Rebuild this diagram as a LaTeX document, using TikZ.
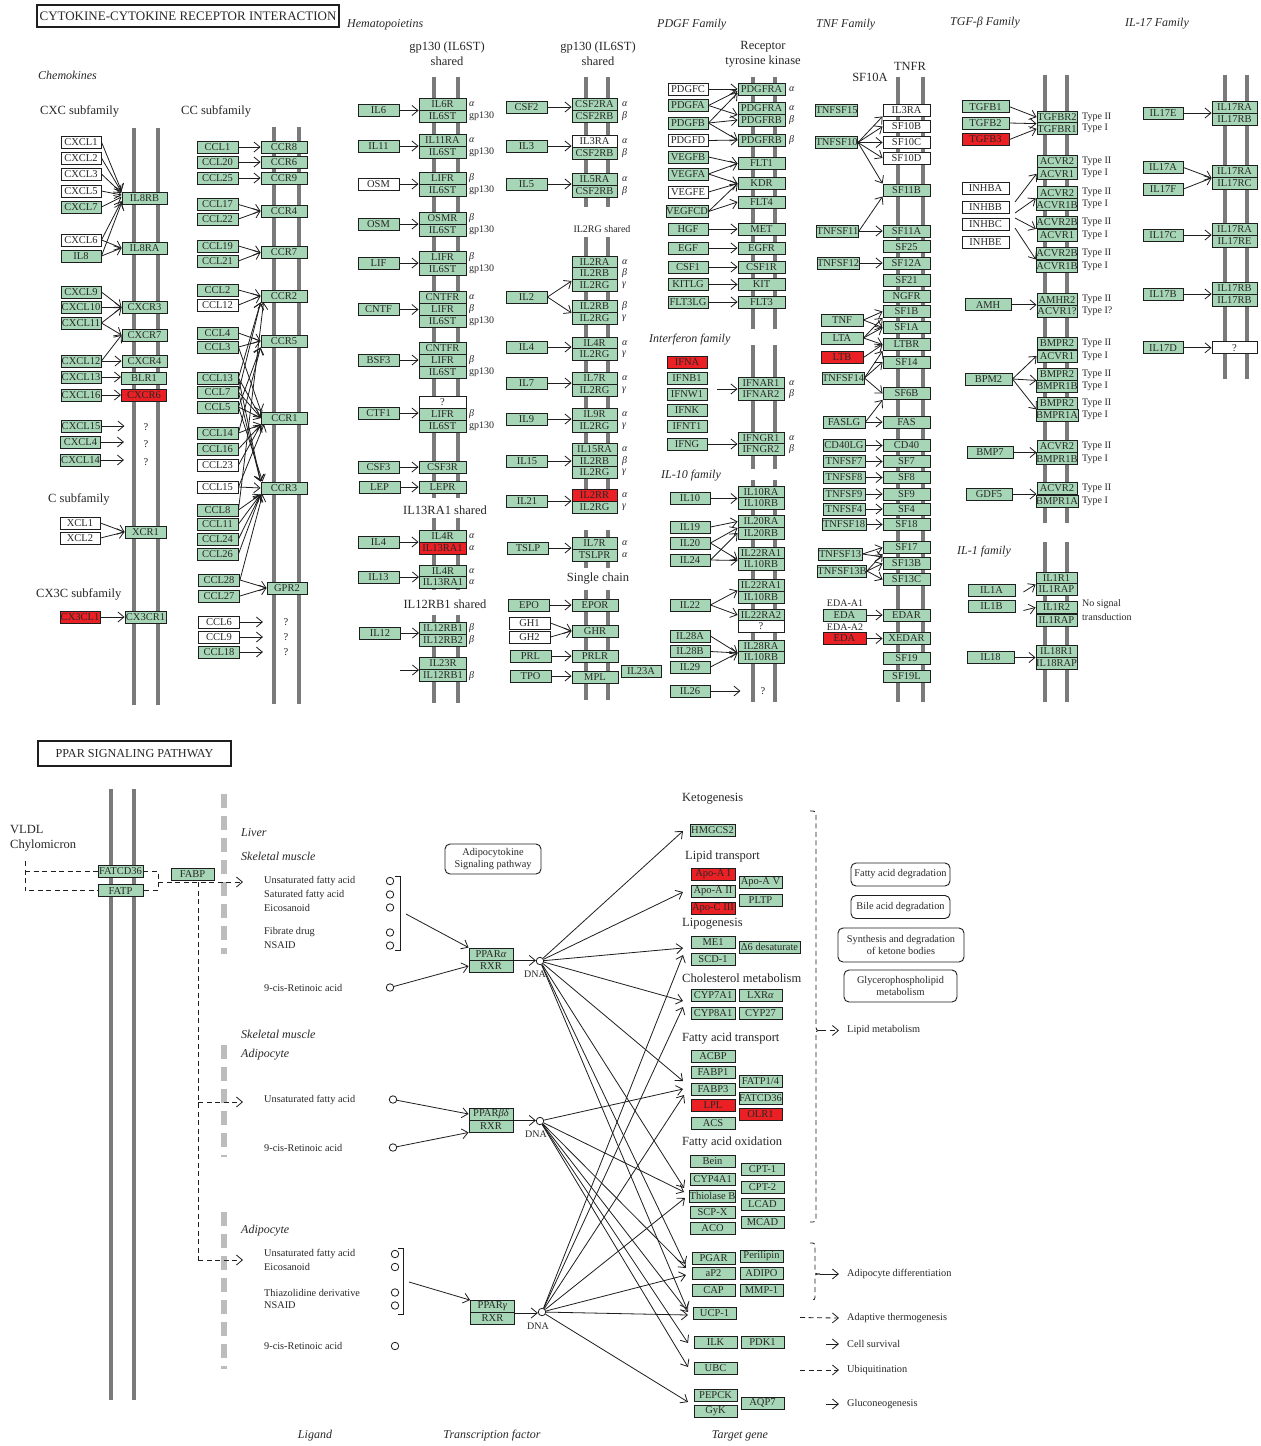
\documentclass[tikz,border=0pt]{standalone}
\usepackage{fontspec}
\setmainfont{Liberation Serif}
\usetikzlibrary{arrows.meta}
\definecolor{gf}{RGB}{166,214,182}
\definecolor{rf}{RGB}{235,32,36}
\definecolor{bd}{RGB}{30,30,30}
\definecolor{tx}{RGB}{40,40,40}
\definecolor{mg}{RGB}{122,122,122}
\definecolor{tg}{RGB}{188,188,188}
\newcommand\fBox{\fontsize{10.5}{10.5}\selectfont}
\newcommand\fLab{\fontsize{12.5}{15}\selectfont}
\newcommand\fIt{\fontsize{12}{13}\selectfont\itshape}
\newcommand\fSm{\fontsize{10.3}{11.5}\selectfont}
\newcommand\fTy{\fontsize{10}{10}\selectfont}
\newcommand\fTa{\fontsize{13}{13}\selectfont}
\newcommand\fTb{\fontsize{12.2}{13}\selectfont}
\newcommand\gA{\textit{α}}
\newcommand\gB{\textit{β}}
\newcommand\gG{\textit{γ}}
\newcounter{lc}
\newcommand\bx[6]{\node[#1,minimum width=#5pt] (#2) at (#3,#4) {#6};}
\newcommand\tl[4]{\stepcounter{lc}\node[#1] (t\arabic{lc}) at (#2,#3) {#4};}
\newcommand\ha[2]{\draw[ar] (#1.east) -- (#1.east -| #2.west);}
\newcommand\aw[2]{\draw[ar] (#1.east) -- (#2);}
\begin{document}
\begin{tikzpicture}[x=1pt,y=-1pt,
 every node/.style={text=tx},
 g/.style={draw=bd,fill=gf,line width=0.9pt,inner sep=0pt,minimum height=12pt,font=\fBox},
 w/.style={g,fill=white},
 r/.style={g,fill=rf},
 mem/.style={line width=4pt,draw=mg},
 ar/.style={draw=bd,line width=0.8pt,-{Straight Barb[length=6pt,width=10pt]}},
 dar/.style={ar,dash pattern=on 5pt off 3.5pt},
 dsh/.style={draw=bd,line width=0.8pt,dash pattern=on 5pt off 3.5pt},
 lab/.style={font=\fLab,inner sep=0pt},
 labw/.style={lab,anchor=west},
 itw/.style={font=\fIt,inner sep=0pt,anchor=west},
 ty/.style={font=\fTy,anchor=west,inner sep=0pt},
 q/.style={font=\fBox,inner sep=0pt},
 sm/.style={font=\fSm,anchor=west,inner sep=0pt},
 circ/.style={circle,draw=bd,line width=0.8pt,minimum size=7.5pt,inner sep=0pt,fill=white},
 rb/.style={draw=bd,line width=0.9pt,rounded corners=5pt,align=center,font=\fSm,inner sep=0pt},
 tgd/.style={line width=6pt,draw=tg,dash pattern=on 14pt off 8pt}]
\fill[white] (0,0) rectangle (1261,1446);
\useasboundingbox (0,0) rectangle (1261,1446);
% ---------- membranes ----------
\foreach \x in {134,158} \draw[mem] (\x,128) -- (\x,705);
\foreach \x in {274,299} \draw[mem] (\x,127) -- (\x,704);
\foreach \x in {434,458} {\draw[mem] (\x,77) -- (\x,498); \draw[mem] (\x,518) -- (\x,590); \draw[mem] (\x,615) -- (\x,703);}
\foreach \x in {586,608} {\draw[mem] (\x,77) -- (\x,207); \draw[mem] (\x,237) -- (\x,512); \draw[mem] (\x,530) -- (\x,568); \draw[mem] (\x,590) -- (\x,700);}
\foreach \x in {753,775} {\draw[mem] (\x,77) -- (\x,329); \draw[mem] (\x,345) -- (\x,469); \draw[mem] (\x,480) -- (\x,702);}
\foreach \x in {898,923} \draw[mem] (\x,77) -- (\x,702);
\foreach \x in {1045,1067} {\draw[mem] (\x,75) -- (\x,523); \draw[mem] (\x,542) -- (\x,702);}
\foreach \x in {1225,1247} \draw[mem] (\x,75) -- (\x,379);
\foreach \x in {111,134} \draw[mem] (\x,789) -- (\x,1400);
% ---------- headings ----------
\node[draw=bd,line width=1.3pt,fill=white,minimum width=302pt,minimum height=22pt,inner sep=0pt,font=\fTa] (title1) at (188,16) {CYTOKINE-CYTOKINE RECEPTOR INTERACTION};
\node[itw] (hChem) at (38,75) {Chemokines};
\node[labw] (hCXC) at (40,111) {CXC subfamily};
\node[labw] (hCC) at (181,111) {CC subfamily};
\node[labw] (hC) at (48,499) {C subfamily};
\node[labw] (hCX3C) at (36,594) {CX3C subfamily};
\node[itw] (hHem) at (347,25) {Hematopoietins};
\node[lab,align=center] (hgp1) at (447,54) {gp130 (IL6ST)\\shared};
\node[lab,align=center] (hgp2) at (598,54) {gp130 (IL6ST)\\shared};
\node[lab,font=\fTy] (hil2rg) at (602,229) {IL2RG shared};
\node[lab] (hil13) at (445,510) {IL13RA1 shared};
\node[lab] (hil12) at (445,604) {IL12RB1 shared};
\node[lab] (hsc) at (598,579) {Single chain};
\node[itw] (hPDGF) at (657,25) {PDGF Family};
\node[lab,align=center] (hrtk) at (763,54) {Receptor\\tyrosine kinase};
\node[itw] (hIFN) at (649,340) {Interferon family};
\node[itw] (hIL10) at (661,476) {IL-10 family};
\node[itw] (hTNF) at (816,25) {TNF Family};
\node[lab] (hTNFR) at (910,66) {TNFR};
\node[lab] (hSF10A) at (870,77) {SF10A};
\node[lab,font=\fTy] (hEDA1) at (845,603) {EDA-A1};
\node[lab,font=\fTy] (hEDA2) at (845,627) {EDA-A2};
\node[itw] (hTGF) at (950,23) {TGF-\textit{β} Family};
\node[itw] (hIL17) at (1125,24) {IL-17 Family};
\node[itw] (hIL1) at (957,552) {IL-1 family};
\node[ty] (hns) at (1082,604) {No signal};
\node[ty] (hns2) at (1082,617) {transduction};
% ---------- CXC ----------
\bx{w}{cxcl1}{81}{142}{40}{CXCL1}
\bx{w}{cxcl2}{81}{158}{40}{CXCL2}
\bx{w}{cxcl3}{81}{174}{40}{CXCL3}
\bx{w}{cxcl5}{81}{191}{40}{CXCL5}
\bx{g}{cxcl7}{81}{207}{40}{CXCL7}
\bx{w}{cxcl6}{81}{240}{40}{CXCL6}
\bx{g}{il8}{81}{256}{40}{IL8}
\bx{g}{cxcl9}{81}{292}{40}{CXCL9}
\bx{g}{cxcl10}{81}{307.5}{40}{CXCL10}
\bx{g}{cxcl11}{81}{323}{40}{CXCL11}
\bx{g}{cxcl12}{81}{361}{40}{CXCL12}
\bx{g}{cxcl13}{81}{377}{40}{CXCL13}
\bx{g}{cxcl16}{81}{395}{40}{CXCL16}
\bx{g}{cxcl15}{81}{426}{40}{CXCL15}
\bx{g}{cxcl4}{80.5}{442}{40}{CXCL4}
\bx{g}{cxcl14}{80.5}{460}{40}{CXCL14}
\bx{w}{xcl1}{80}{523}{40}{XCL1}
\bx{w}{xcl2}{80}{538}{40}{XCL2}
\bx{r}{cx3cl1}{80}{617}{40}{CX3CL1}
\bx{g}{il8rb}{144.5}{198}{45}{IL8RB}
\bx{g}{il8ra}{144.5}{248}{45}{IL8RA}
\bx{g}{cxcr3}{144.5}{307.5}{45}{CXCR3}
\bx{g}{cxcr7}{144.5}{335}{45}{CXCR7}
\bx{g}{cxcr4}{144.5}{361}{45}{CXCR4}
\bx{g}{blr1}{144}{378}{45}{BLR1}
\bx{r}{cxcr6}{144}{395}{45}{CXCR6}
\bx{g}{xcr1}{145.5}{532}{41}{XCR1}
\bx{g}{cx3cr1}{145.5}{617}{41}{CX3CR1}
\node[q] (qa1) at (146,427) {?};
\node[q] (qa2) at (146,444) {?};
\node[q] (qa3) at (146,462) {?};
\aw{cxcl1}{[yshift=7pt]il8rb.west}
\aw{cxcl2}{[yshift=6pt]il8rb.west}
\aw{cxcl3}{[yshift=5pt]il8rb.west}
\aw{cxcl5}{[yshift=3pt]il8rb.west}
\aw{cxcl7}{[yshift=1pt]il8rb.west}
\aw{cxcl6}{[yshift=-3pt]il8rb.west}
\aw{il8}{[yshift=-5pt]il8rb.west}
\aw{cxcl6}{il8ra.west}
\aw{il8}{il8ra.west}
\aw{cxcl9}{cxcr3.west}
\aw{cxcl10}{cxcr3.west}
\aw{cxcl11}{cxcr3.west}
\aw{cxcl11}{cxcr7.west}
\aw{cxcl12}{cxcr7.west}
\aw{cxcl12}{cxcr4.west}
\ha{cxcl13}{blr1}
\ha{cxcl16}{cxcr6}
\draw[ar] (cxcl15.east) -- ++(23,0);
\draw[ar] (cxcl4.east) -- ++(23,0);
\draw[ar] (cxcl14.east) -- ++(23,0);
\aw{xcl1}{xcr1.west}
\aw{xcl2}{xcr1.west}
\ha{cx3cl1}{cx3cr1}
% ---------- CC ----------
\bx{g}{ccl1}{217.5}{147}{41}{CCL1}
\bx{g}{ccl20}{217.5}{162}{41}{CCL20}
\bx{g}{ccl25}{217.5}{178}{41}{CCL25}
\bx{g}{ccl17}{217.5}{204.5}{41}{CCL17}
\bx{g}{ccl22}{217.5}{219}{41}{CCL22}
\bx{g}{ccl19}{217.5}{246}{41}{CCL19}
\bx{g}{ccl21}{217.5}{261}{41}{CCL21}
\bx{g}{ccl2}{217.5}{290}{41}{CCL2}
\bx{w}{ccl12}{217.5}{305}{41}{CCL12}
\bx{g}{ccl4}{217.5}{333}{41}{CCL4}
\bx{g}{ccl3}{217.5}{347}{41}{CCL3}
\bx{g}{ccl13}{217.5}{378}{41}{CCL13}
\bx{g}{ccl7}{217.5}{392}{41}{CCL7}
\bx{g}{ccl5}{217.5}{407}{41}{CCL5}
\bx{g}{ccl14}{217.5}{433}{41}{CCL14}
\bx{g}{ccl16}{217.5}{449}{41}{CCL16}
\bx{w}{ccl23}{217.5}{465}{41}{CCL23}
\bx{w}{ccl15}{217.5}{487}{41}{CCL15}
\bx{g}{ccl8}{217.5}{510}{41}{CCL8}
\bx{g}{ccl11}{217.5}{524}{41}{CCL11}
\bx{g}{ccl24}{217.5}{539}{41}{CCL24}
\bx{g}{ccl26}{217.5}{554}{41}{CCL26}
\bx{g}{ccl28}{219}{580}{41}{CCL28}
\bx{g}{ccl27}{219}{596}{41}{CCL27}
\bx{w}{ccl6}{219}{622}{41}{CCL6}
\bx{w}{ccl9}{219}{637}{41}{CCL9}
\bx{g}{ccl18}{219}{652}{41}{CCL18}
\bx{g}{ccr8}{284}{147}{46}{CCR8}
\bx{g}{ccr6}{284}{162}{46}{CCR6}
\bx{g}{ccr9}{284}{178}{46}{CCR9}
\bx{g}{ccr4}{284}{211}{46}{CCR4}
\bx{g}{ccr7}{284}{252.5}{46}{CCR7}
\bx{g}{ccr2}{284}{296}{46}{CCR2}
\bx{g}{ccr5}{284}{341}{46}{CCR5}
\bx{g}{ccr1}{284.5}{418}{46}{CCR1}
\bx{g}{ccr3}{284}{488}{46}{CCR3}
\bx{g}{gpr2}{287}{588}{40}{GPR2}
\node[q] (qc1) at (286,622) {?};
\node[q] (qc2) at (286,637) {?};
\node[q] (qc3) at (286,652) {?};
\ha{ccl1}{ccr8}
\ha{ccl20}{ccr6}
\ha{ccl25}{ccr9}
\aw{ccl17}{ccr4.west}
\aw{ccl22}{ccr4.west}
\aw{ccl19}{ccr7.west}
\aw{ccl21}{ccr7.west}
\aw{ccl2}{ccr2.west}
\aw{ccl12}{ccr2.west}
\aw{ccl13}{ccr2.south west}
\aw{ccl7}{ccr2.south west}
\aw{ccl8}{[xshift=3pt]ccr2.south west}
\aw{ccl4}{ccr5.west}
\aw{ccl3}{ccr5.west}
\aw{ccl5}{ccr5.south west}
\aw{ccl14}{ccr5.south west}
\aw{ccl3}{ccr1.north west}
\aw{ccl13}{ccr1.west}
\aw{ccl7}{ccr1.west}
\aw{ccl5}{ccr1.west}
\aw{ccl14}{ccr1.south west}
\aw{ccl16}{ccr1.south west}
\aw{ccl23}{ccr1.south west}
\aw{ccl15}{[xshift=3pt]ccr1.south west}
\aw{ccl13}{ccr3.north west}
\aw{ccl7}{ccr3.north west}
\aw{ccl5}{[xshift=2pt]ccr3.north west}
\aw{ccl15}{ccr3.west}
\aw{ccl8}{ccr3.south west}
\aw{ccl11}{ccr3.south west}
\aw{ccl24}{ccr3.south west}
\aw{ccl26}{ccr3.south west}
\aw{ccl28}{[xshift=2pt]ccr3.south west}
\aw{ccl28}{gpr2.west}
\aw{ccl27}{gpr2.west}
\draw[ar] (ccl6.east) -- ++(23,0);
\draw[ar] (ccl9.east) -- ++(23,0);
\draw[ar] (ccl18.east) -- ++(23,0);
% ---------- gp130 column 1 ----------
\bx{g}{il6}{378.5}{110.5}{41}{IL6}
\bx{g}{il11}{378.5}{146}{41}{IL11}
\bx{w}{osma}{378.5}{184}{41}{OSM}
\bx{g}{osmb}{378.5}{224}{41}{OSM}
\bx{g}{lif}{378.5}{263}{41}{LIF}
\bx{g}{cntf}{378.5}{309.5}{41}{CNTF}
\bx{g}{bsf3}{378.5}{360}{41}{BSF3}
\bx{g}{ctf1}{378.5}{413}{41}{CTF1}
\bx{g}{csf3}{378.5}{467}{41}{CSF3}
\bx{g}{lep}{379.5}{487}{41}{LEP}
\bx{g}{il4a}{378.5}{542}{41}{IL4}
\bx{g}{il13}{378.5}{577}{41}{IL13}
\bx{g}{il12}{380}{633}{41}{IL12}
\bx{g}{il6r}{442.5}{104}{47}{IL6R}
\bx{g}{il6sta}{442.5}{116}{47}{IL6ST}
\bx{g}{il11ra}{442.5}{140}{47}{IL11RA}
\bx{g}{il6stb}{442.5}{152}{47}{IL6ST}
\bx{g}{lifra}{442.5}{178}{47}{LIFR}
\bx{g}{il6stc}{442.5}{190}{47}{IL6ST}
\bx{g}{osmr}{442.5}{218}{47}{OSMR}
\bx{g}{il6std}{442.5}{230}{47}{IL6ST}
\bx{g}{lifrb}{442.5}{257}{47}{LIFR}
\bx{g}{il6ste}{442.5}{269}{47}{IL6ST}
\bx{g}{cntfra}{442.5}{297}{47}{CNTFR}
\bx{g}{lifrc}{442.5}{309}{47}{LIFR}
\bx{g}{il6stf}{442.5}{321}{47}{IL6ST}
\bx{g}{cntfrb}{442.5}{348}{47}{CNTFR}
\bx{g}{lifrd}{442.5}{360}{47}{LIFR}
\bx{g}{il6stg}{442.5}{372}{47}{IL6ST}
\bx{w}{qgp}{442.5}{402}{47}{?}
\bx{g}{lifre}{442.5}{414}{47}{LIFR}
\bx{g}{il6sth}{442.5}{426}{47}{IL6ST}
\bx{g}{csf3r}{442.5}{467}{47}{CSF3R}
\bx{g}{lepr}{442.5}{487}{47}{LEPR}
\bx{g}{il4ra}{442.5}{536}{47}{IL4R}
\bx{r}{il13raa}{442.5}{548}{47}{IL13RA1}
\bx{g}{il4rb}{443}{571}{47}{IL4R}
\bx{g}{il13rab}{443}{582}{47}{IL13RA1}
\bx{g}{il12rb1a}{443}{628}{47}{IL12RB1}
\bx{g}{il12rb2}{443}{640}{47}{IL12RB2}
\bx{g}{il23r}{443}{663.5}{47}{IL23R}
\bx{g}{il12rb1b}{443}{675.5}{47}{IL12RB1}
\foreach \y/\myT in {104/\gA,116/gp130,140/\gA,152/gp130,178/\gB,190/gp130,218/\gB,230/gp130,257/\gB,269/gp130,297/\gA,309/\gB,321/gp130,360/\gB,372/gp130,414/\gB,426/gp130,536/\gA,548/\gA,571/\gA,582/\gA,628/\gB,640/\gB,676/\gB}{\tl{ty}{469}{\y}{\myT}}
\ha{il6}{il6r}
\ha{il11}{il11ra}
\ha{osma}{lifra}
\ha{osmb}{osmr}
\ha{lif}{lifrb}
\ha{cntf}{lifrc}
\ha{bsf3}{lifrd}
\ha{ctf1}{lifre}
\ha{csf3}{csf3r}
\ha{lep}{lepr}
\ha{il4a}{il4ra}
\ha{il13}{il4rb}
\ha{il12}{il12rb1a}
\coordinate (f23) at (400,670);
\draw[ar] (f23) -- (f23 -| il23r.west);
% ---------- gp130 column 2 ----------
\bx{g}{csf2}{526.5}{107}{41}{CSF2}
\bx{g}{il3}{526.5}{146}{41}{IL3}
\bx{g}{il5}{526.5}{184}{41}{IL5}
\bx{g}{il2}{526.5}{297}{41}{IL2}
\bx{g}{il4b}{526.5}{347}{41}{IL4}
\bx{g}{il7}{526.5}{383}{41}{IL7}
\bx{g}{il9}{526.5}{419}{41}{IL9}
\bx{g}{il15}{527}{461}{41}{IL15}
\bx{g}{il21}{527}{501}{41}{IL21}
\bx{g}{tslp}{528}{548}{41}{TSLP}
\bx{g}{epo}{529}{605}{41}{EPO}
\bx{w}{gh1}{529.5}{623}{41}{GH1}
\bx{w}{gh2}{529.5}{637}{41}{GH2}
\bx{g}{prl}{530.5}{656}{41}{PRL}
\bx{g}{tpo}{530.5}{676}{41}{TPO}
\bx{g}{csf2ra}{594.5}{104}{45}{CSF2RA}
\bx{g}{csf2rba}{594.5}{116}{45}{CSF2RB}
\bx{w}{il3ra}{594.5}{141}{45}{IL3RA}
\bx{g}{csf2rbb}{594.5}{153}{45}{CSF2RB}
\bx{g}{il5ra}{594.5}{179}{45}{IL5RA}
\bx{g}{csf2rbc}{594.5}{191}{45}{CSF2RB}
\bx{g}{il2ra}{594.5}{262}{45}{IL2RA}
\bx{g}{il2rba}{594.5}{273.5}{45}{IL2RB}
\bx{g}{il2rga}{594.5}{285}{45}{IL2RG}
\bx{g}{il2rbb}{594.5}{306.5}{45}{IL2RB}
\bx{g}{il2rgb}{594.5}{318}{45}{IL2RG}
\bx{g}{il4rc}{594.5}{343}{45}{IL4R}
\bx{g}{il2rgc}{594.5}{354.5}{45}{IL2RG}
\bx{g}{il7ra}{594.5}{378.5}{45}{IL7R}
\bx{g}{il2rgd}{594.5}{390}{45}{IL2RG}
\bx{g}{il9r}{594.5}{414.5}{45}{IL9R}
\bx{g}{il2rge}{594.5}{426.5}{45}{IL2RG}
\bx{g}{il15ra}{594.5}{449.5}{45}{IL15RA}
\bx{g}{il2rbc}{594.5}{461}{45}{IL2RB}
\bx{g}{il2rgf}{594.5}{472.5}{45}{IL2RG}
\bx{r}{il2rr}{594.5}{495}{45}{IL2RR}
\bx{g}{il2rgg}{594.5}{507}{45}{IL2RG}
\bx{g}{il7rb}{594.5}{543}{45}{IL7R}
\bx{g}{tslpr}{594.5}{555}{45}{TSLPR}
\bx{g}{epor}{595}{605}{46}{EPOR}
\bx{g}{ghr}{595}{631}{46}{GHR}
\bx{g}{prlr}{595}{656}{46}{PRLR}
\bx{g}{mpl}{595}{677}{46}{MPL}
\bx{g}{il23a}{641}{671}{40}{IL23A}
\foreach \y/\myT in {104/\gA,116/\gB,141/\gA,153/\gB,179/\gA,191/\gB,262/\gA,273.5/\gB,285/\gG,306.5/\gB,318/\gG,343/\gA,354.5/\gG,378.5/\gA,390/\gG,414.5/\gA,426.5/\gG,449.5/\gA,461/\gB,472.5/\gG,495/\gA,507/\gG,543/\gA,555/\gA}{\tl{ty}{622}{\y}{\myT}}
\ha{csf2}{csf2ra}
\ha{il3}{il3ra}
\ha{il5}{il5ra}
\aw{il2}{[yshift=4pt]il2rga.west}
\aw{il2}{il2rbb.south west}
\ha{il4b}{il4rc}
\ha{il7}{il7ra}
\ha{il9}{il9r}
\ha{il15}{il2rbc}
\ha{il21}{il2rr}
\ha{tslp}{il7rb}
\ha{epo}{epor}
\aw{gh1}{ghr.west}
\aw{gh2}{ghr.west}
\ha{prl}{prlr}
\ha{tpo}{mpl}
% ---------- PDGF ----------
\bx{w}{pdgfc}{688}{89}{40}{PDGFC}
\bx{g}{pdgfa}{688}{105.5}{40}{PDGFA}
\bx{g}{pdgfb}{688}{123}{40}{PDGFB}
\bx{w}{pdgfd}{688}{140.5}{40}{PDGFD}
\bx{g}{vegfb}{688}{157}{40}{VEGFB}
\bx{g}{vegfa}{688}{174}{40}{VEGFA}
\bx{w}{vegfe}{688}{192}{40}{VEGFE}
\bx{g}{vegfcd}{687}{211.5}{42}{VEGFCD}
\bx{g}{hgf}{688}{229}{40}{HGF}
\bx{g}{egf}{688}{248}{40}{EGF}
\bx{g}{csf1}{688}{267}{40}{CSF1}
\bx{g}{kitlg}{688}{284.5}{40}{KITLG}
\bx{g}{flt3lg}{688}{302}{40}{FLT3LG}
\bx{g}{pdgfraa}{761.5}{89}{47}{PDGFRA}
\bx{g}{pdgfrab}{761.5}{108.5}{47}{PDGFRA}
\bx{g}{pdgfrba}{761.5}{120}{47}{PDGFRB}
\bx{g}{pdgfrbb}{761.5}{140}{47}{PDGFRB}
\bx{g}{flt1}{761.5}{163.5}{47}{FLT1}
\bx{g}{kdr}{761.5}{183.5}{47}{KDR}
\bx{g}{flt4}{761.5}{202}{47}{FLT4}
\bx{g}{met}{761.5}{229}{47}{MET}
\bx{g}{egfr}{761.5}{248}{47}{EGFR}
\bx{g}{csf1r}{761.5}{267}{47}{CSF1R}
\bx{g}{kit}{761.5}{284.5}{47}{KIT}
\bx{g}{flt3}{761.5}{302}{47}{FLT3}
\foreach \y/\myT in {89/\gA,108.5/\gA,120/\gB,140/\gB,383/\gA,394.5/\gB,438/\gA,449.5/\gB}{\tl{ty}{789}{\y}{\myT}}
\aw{pdgfc}{pdgfraa.west}
\aw{pdgfa}{[yshift=-2pt]pdgfraa.west}
\aw{pdgfa}{pdgfrab.south west}
\aw{pdgfb}{[yshift=-4pt]pdgfraa.west}
\aw{pdgfb}{pdgfrba.west}
\aw{pdgfb}{pdgfrbb.west}
\aw{pdgfd}{pdgfrbb.west}
\aw{vegfb}{flt1.west}
\aw{vegfa}{flt1.west}
\aw{vegfa}{kdr.west}
\aw{vegfe}{kdr.west}
\aw{vegfcd}{kdr.west}
\aw{vegfcd}{flt4.west}
\ha{hgf}{met}
\ha{egf}{egfr}
\ha{csf1}{csf1r}
\ha{kitlg}{kit}
\ha{flt3lg}{flt3}
% ---------- Interferon ----------
\bx{r}{ifna}{687}{362}{40}{IFNA}
\bx{g}{ifnb1}{687}{378}{40}{IFNB1}
\bx{g}{ifnw1}{687}{394}{40}{IFNW1}
\bx{g}{ifnk}{687}{410}{40}{IFNK}
\bx{g}{ifnt1}{687}{426}{40}{IFNT1}
\bx{g}{ifng}{687}{444}{40}{IFNG}
\bx{g}{ifnar1}{761}{383}{46}{IFNAR1}
\bx{g}{ifnar2}{761}{394.5}{46}{IFNAR2}
\bx{g}{ifngr1}{761}{438}{46}{IFNGR1}
\bx{g}{ifngr2}{761}{449.5}{46}{IFNGR2}
\coordinate (fifn) at (717,389);
\draw[ar] (fifn) -- (fifn -| ifnar1.west);
\ha{ifng}{ifngr1}
% ---------- IL-10 ----------
\bx{g}{il10}{690}{498.5}{40}{IL10}
\bx{g}{il19}{690}{527}{40}{IL19}
\bx{g}{il20}{690}{543}{40}{IL20}
\bx{g}{il24}{690}{560}{40}{IL24}
\bx{g}{il22}{690}{605}{40}{IL22}
\bx{g}{il28a}{690}{636}{40}{IL28A}
\bx{g}{il28b}{690}{651.5}{40}{IL28B}
\bx{g}{il29}{690}{667}{40}{IL29}
\bx{g}{il26}{690}{691}{40}{IL26}
\bx{g}{il10ra}{761}{492.5}{46}{IL10RA}
\bx{g}{il10rba}{761}{503.5}{46}{IL10RB}
\bx{g}{il20ra}{761}{521.5}{46}{IL20RA}
\bx{g}{il20rb}{761}{533}{46}{IL20RB}
\bx{g}{il22raa}{761}{553}{46}{IL22RA1}
\bx{g}{il10rbb}{761}{564.5}{46}{IL10RB}
\bx{g}{il22rab}{761}{585}{46}{IL22RA1}
\bx{g}{il10rbc}{761}{597}{46}{IL10RB}
\bx{g}{il22ra2}{761}{615}{46}{IL22RA2}
\bx{w}{qil}{761}{626.5}{46}{?}
\bx{g}{il28ra}{761}{646.5}{46}{IL28RA}
\bx{g}{il10rbd}{761}{657.5}{46}{IL10RB}
\node[q] (qil26) at (763,691) {?};
\ha{il10}{il10ra}
\aw{il19}{il20ra.west}
\aw{il20}{il20ra.south west}
\aw{il20}{il22raa.south west}
\aw{il24}{il20rb.west}
\aw{il24}{[yshift=-1pt]il22raa.south west}
\aw{il22}{il10rbc.north west}
\aw{il22}{il22ra2.west}
\aw{il28a}{il28ra.south west}
\aw{il28b}{il28ra.south west}
\aw{il29}{il28ra.south west}
\draw[ar] (il26.east) -- ++(30,0);
% ---------- TNF ----------
\bx{g}{tnfsf15}{836.5}{110}{42}{TNFSF15}
\bx{g}{tnfsf10}{836.5}{142.5}{42}{TNFSF10}
\bx{g}{tnfsf11}{837.5}{231}{42}{TNFSF11}
\bx{g}{tnfsf12}{838}{263}{42}{TNFSF12}
\bx{g}{tnf}{842}{320}{42}{TNF}
\bx{g}{lta}{842}{338}{42}{LTA}
\bx{r}{ltb}{842}{357.5}{42}{LTB}
\bx{g}{tnfsf14}{843}{378}{42}{TNFSF14}
\bx{g}{faslg}{844}{422}{42}{FASLG}
\bx{g}{cd40lg}{844}{445.5}{42}{CD40LG}
\bx{g}{tnfsf7}{844}{461.5}{42}{TNFSF7}
\bx{g}{tnfsf8}{844}{477.5}{42}{TNFSF8}
\bx{g}{tnfsf9}{844}{494}{42}{TNFSF9}
\bx{g}{tnfsf4}{844}{509}{42}{TNFSF4}
\bx{g}{tnfsf18}{844}{524.5}{44}{TNFSF18}
\bx{g}{tnfsf13}{840}{554}{44}{TNFSF13}
\bx{g}{tnfsf13b}{842}{571}{48}{TNFSF13B}
\bx{g}{edaa}{844.5}{615}{43}{EDA}
\bx{r}{edab}{844.5}{638.5}{43}{EDA}
\bx{w}{il3rb}{906.5}{110}{47}{IL3RA}
\bx{w}{sf10b}{906.5}{126.5}{47}{SF10B}
\bx{w}{sf10c}{906.5}{142.5}{47}{SF10C}
\bx{w}{sf10d}{906.5}{158}{47}{SF10D}
\bx{g}{sf11b}{906.5}{190}{47}{SF11B}
\bx{g}{sf11a}{906.5}{231}{47}{SF11A}
\bx{g}{sf25}{906.5}{246.7}{47}{SF25}
\bx{g}{sf12a}{906.5}{263}{47}{SF12A}
\bx{g}{sf21}{906.5}{280}{47}{SF21}
\bx{g}{ngfr}{906.5}{296}{47}{NGFR}
\bx{g}{sf1b}{906.5}{311.5}{47}{SF1B}
\bx{g}{sf1a}{906.5}{327.5}{47}{SF1A}
\bx{g}{ltbr}{906.5}{344.5}{47}{LTBR}
\bx{g}{sf14}{906.5}{362}{47}{SF14}
\bx{g}{sf6b}{906.5}{393.5}{47}{SF6B}
\bx{g}{fas}{906.5}{422}{47}{FAS}
\bx{g}{cd40}{906.5}{445.5}{47}{CD40}
\bx{g}{sf7}{906.5}{461.5}{47}{SF7}
\bx{g}{sf8}{906.5}{477.5}{47}{SF8}
\bx{g}{sf9}{906.5}{494}{47}{SF9}
\bx{g}{sf4}{906.5}{509}{47}{SF4}
\bx{g}{sf18}{906.5}{524.5}{47}{SF18}
\bx{g}{sf17}{906.5}{547.5}{47}{SF17}
\bx{g}{sf13b}{906.5}{563.5}{47}{SF13B}
\bx{g}{sf13c}{906.5}{579.5}{47}{SF13C}
\bx{g}{edar}{906.5}{615}{47}{EDAR}
\bx{g}{xedar}{906.5}{638.5}{47}{XEDAR}
\bx{g}{sf19}{906.5}{658.3}{47}{SF19}
\bx{g}{sf19l}{906.5}{676}{47}{SF19L}
\aw{tnfsf10}{il3rb.south west}
\aw{tnfsf10}{sf10b.west}
\aw{tnfsf10}{sf10c.west}
\aw{tnfsf10}{sf10d.west}
\aw{tnfsf10}{sf11b.north west}
\aw{tnfsf11}{sf11a.west}
\aw{tnfsf11}{sf11b.south west}
\ha{tnfsf12}{sf12a}
\aw{tnf}{sf1b.west}
\aw{tnf}{sf1a.west}
\aw{lta}{sf1b.south west}
\aw{lta}{sf1a.west}
\aw{lta}{ltbr.west}
\aw{ltb}{ltbr.west}
\aw{tnfsf14}{ltbr.south west}
\aw{tnfsf14}{sf14.west}
\aw{tnfsf14}{sf6b.west}
\aw{faslg}{sf6b.south west}
\ha{faslg}{fas}
\ha{cd40lg}{cd40}
\ha{tnfsf7}{sf7}
\ha{tnfsf8}{sf8}
\ha{tnfsf9}{sf9}
\ha{tnfsf4}{sf4}
\ha{tnfsf18}{sf18}
\aw{tnfsf13}{sf17.west}
\aw{tnfsf13}{sf13b.north west}
\aw{tnfsf13b}{sf17.south west}
\aw{tnfsf13b}{sf13b.west}
\aw{tnfsf13b}{sf13c.west}
\ha{edaa}{edar}
\ha{edab}{xedar}
% ---------- TGF-beta ----------
\bx{g}{tgfb1}{985.5}{106.7}{47}{TGFB1}
\bx{g}{tgfb2}{985.5}{123}{47}{TGFB2}
\bx{r}{tgfb3}{985.5}{139.5}{47}{TGFB3}
\bx{w}{inhba}{985.5}{188.5}{47}{INHBA}
\bx{w}{inhbb}{985.5}{207}{47}{INHBB}
\bx{w}{inhbc}{985.5}{224}{47}{INHBC}
\bx{w}{inhbe}{985.5}{242}{47}{INHBE}
\bx{g}{amh}{988}{304.8}{46}{AMH}
\bx{g}{bpm2}{988.5}{379}{47}{BPM2}
\bx{g}{bmp7}{990}{452.5}{46}{BMP7}
\bx{g}{gdf5}{989}{494}{46}{GDF5}
\bx{g}{tgfbr2}{1057}{117.2}{40}{TGFBR2}
\bx{g}{tgfbr1}{1057}{128.8}{40}{TGFBR1}
\bx{g}{acvraa}{1057}{161}{40}{ACVR2}
\bx{g}{acvrab}{1057}{173.8}{40}{ACVR1}
\bx{g}{acvrba}{1057}{192.8}{40}{ACVR2}
\bx{g}{acvrbb}{1057}{204.8}{40}{ACVR1B}
\bx{g}{acvrca}{1057}{222.5}{40}{ACVR2B}
\bx{g}{acvrcb}{1057}{235}{40}{ACVR1}
\bx{g}{acvrda}{1057}{253}{40}{ACVR2B}
\bx{g}{acvrdb}{1057}{266}{40}{ACVR1B}
\bx{g}{amhr2}{1057}{299.8}{40}{AMHR2}
\bx{g}{acvrq}{1057}{311.5}{40}{ACVR1?}
\bx{g}{bmpra}{1057}{343}{40}{BMPR2}
\bx{g}{acvre}{1057}{356}{40}{ACVR1}
\bx{g}{bmprb}{1057}{374}{40}{BMPR2}
\bx{g}{bmprba}{1057}{386.5}{40}{BMPR1B}
\bx{g}{bmprc}{1057}{403}{40}{BMPR2}
\bx{g}{bmpraa}{1057}{415}{40}{BMPR1A}
\bx{g}{acvrf}{1057}{446.5}{40}{ACVR2}
\bx{g}{bmprbb}{1057}{458.8}{40}{BMPR1B}
\bx{g}{acvrg}{1057}{488}{40}{ACVR2}
\bx{g}{bmprab}{1057}{501}{40}{BMPR1A}
\foreach \y/\myT in {117.2/Type II,128.8/Type I,161/Type II,173.8/Type I,192.8/Type II,204.8/Type I,222.5/Type II,235/Type I,253/Type II,266/Type I,299.8/Type II,311.5/Type I?,343/Type II,356/Type I,374/Type II,386.5/Type I,403/Type II,415/Type I,446.5/Type II,458.8/Type I,488/Type II,501/Type I}{\tl{ty}{1082}{\y}{\myT}}
\aw{tgfb1}{tgfbr2.west}
\aw{tgfb2}{tgfbr2.south west}
\aw{tgfb3}{tgfbr1.west}
\coordinate (iha) at (1015,202);
\coordinate (ihb) at (1015,213);
\coordinate (ihc) at (1015,218);
\coordinate (ihd) at (1015,228);
\draw[ar] (iha) -- (acvrab.west);
\draw[ar] (ihb) -- (acvrbb.north west);
\draw[ar] (ihc) -- (acvrca.south west);
\draw[ar] (ihd) -- (acvrda.south west);
\ha{amh}{amhr2}
\aw{bpm2}{acvre.west}
\aw{bpm2}{bmprb.south west}
\aw{bpm2}{bmprc.south west}
\ha{bmp7}{acvrf}
\ha{gdf5}{acvrg}
% ---------- IL-17 ----------
\bx{g}{il17e}{1163}{113}{40}{IL17E}
\bx{g}{il17a}{1163}{167.5}{40}{IL17A}
\bx{g}{il17f}{1163}{189}{40}{IL17F}
\bx{g}{il17c}{1163}{235}{40}{IL17C}
\bx{g}{il17b}{1163}{294}{40}{IL17B}
\bx{g}{il17d}{1163}{347.8}{40}{IL17D}
\bx{g}{il17raa}{1234.5}{107.5}{45}{IL17RA}
\bx{g}{il17rba}{1234.5}{119}{45}{IL17RB}
\bx{g}{il17rab}{1234.5}{171.5}{45}{IL17RA}
\bx{g}{il17rc}{1234.5}{183}{45}{IL17RC}
\bx{g}{il17rac}{1234.5}{229.5}{45}{IL17RA}
\bx{g}{il17re}{1234.5}{241.5}{45}{IL17RE}
\bx{g}{il17rbb}{1234.5}{288}{45}{IL17RB}
\bx{g}{il17rbc}{1234.5}{300}{45}{IL17RB}
\bx{w}{q17}{1234.5}{347.8}{45}{?}
\ha{il17e}{il17raa}
\aw{il17a}{il17rab.south west}
\aw{il17f}{il17rab.south west}
\ha{il17c}{il17rac}
\ha{il17b}{il17rbb}
\ha{il17d}{q17}
% ---------- IL-1 ----------
\bx{g}{il1a}{991.5}{590}{47}{IL1A}
\bx{g}{il1b}{991.5}{606.5}{47}{IL1B}
\bx{g}{il18}{990.5}{657.5}{47}{IL18}
\bx{g}{il1r1}{1056.5}{578}{41}{IL1R1}
\bx{g}{il1rapa}{1056.5}{589.5}{41}{IL1RAP}
\bx{g}{il1r2}{1056.5}{607.5}{41}{IL1R2}
\bx{g}{il1rapb}{1056.5}{620}{41}{IL1RAP}
\bx{g}{il18r1}{1056.5}{651.5}{41}{IL18R1}
\bx{g}{il18rap}{1056.5}{663}{41}{IL18RAP}
\draw[ar] ([xshift=8pt,yshift=-2pt]il1a.east) -- (il1r1.south west);
\draw[ar] ([xshift=8pt,yshift=-4pt]il1b.east) -- (il1r2.west);
\ha{il18}{il18r1}
% =============== PPAR ===============
\node[draw=bd,line width=1.3pt,fill=white,minimum width=193pt,minimum height=25pt,inner sep=0pt,font=\fTb] (title2) at (134.5,753.5) {PPAR SIGNALING PATHWAY};
\draw[tgd] (224,794) -- (224,954);
\draw[tgd] (224,1045) -- (224,1157);
\draw[tgd] (224,1212) -- (224,1369);
\node[labw] (vldl) at (10,829) {VLDL};
\node[labw] (chylo) at (10,846) {Chylomicron};
\bx{g}{fatcd}{120.5}{871.5}{45}{FATCD36}
\bx{g}{fatp}{120.5}{890.7}{45}{FATP}
\bx{g}{fabp}{192.5}{874}{43}{FABP}
\coordinate (vl) at (25,861);
\coordinate (jr) at (158,882);
\coordinate (jv) at (198,882);
\coordinate (ea) at (243,882);
\coordinate (eb) at (243,1102);
\coordinate (ec) at (243,1260);
\draw[dsh] (vl) -- (vl |- fatp.west) -- (fatp.west);
\draw[dsh] (vl |- fatcd.west) -- (fatcd.west);
\draw[dsh] (fatcd.east) -| (jr |- fatp.east) -- (fatp.east);
\draw[dar] (jr) -- (ea);
\draw[dsh] (jv) -- (jv |- ec);
\draw[dar] (jv |- eb) -- (eb);
\draw[dar] (jv |- ec) -- (ec);
\node[itw] (lLiv) at (241,833) {Liver};
\node[itw] (lSk1) at (241,856.5) {Skeletal muscle};
\node[itw] (lSk2) at (241,1034.6) {Skeletal muscle};
\node[itw] (lAd1) at (241,1055) {Adipocyte};
\node[itw] (lAd2) at (241,1231) {Adipocyte};
\tl{sm}{264}{881}{Unsaturated fatty acid}
\tl{sm}{264}{894.5}{Saturated fatty acid}
\tl{sm}{264}{907.5}{Eicosanoid}
\tl{sm}{264}{932.5}{Fibrate drug}
\tl{sm}{264}{945.5}{NSAID}
\tl{sm}{264}{987.5}{9-cis-Retinoic acid}
\tl{sm}{264}{1099.5}{Unsaturated fatty acid}
\tl{sm}{264}{1147.5}{9-cis-Retinoic acid}
\tl{sm}{264}{1254}{Unsaturated fatty acid}
\tl{sm}{264}{1267}{Eicosanoid}
\tl{sm}{264}{1292.5}{Thiazolidine derivative}
\tl{sm}{264}{1305.5}{NSAID}
\tl{sm}{264}{1346}{9-cis-Retinoic acid}
\node[circ] (ca) at (390,881) {};
\node[circ] (cb) at (390,894.5) {};
\node[circ] (cc) at (390,907.5) {};
\node[circ] (cd) at (390,932.5) {};
\node[circ] (ce) at (390,945.5) {};
\node[circ] (cf) at (390,987.5) {};
\node[circ] (cg) at (393,1099.5) {};
\node[circ] (ch) at (393,1147.5) {};
\node[circ] (ci) at (395,1254) {};
\node[circ] (cj) at (395,1267) {};
\node[circ] (ck) at (395,1292.5) {};
\node[circ] (cl) at (395,1305.5) {};
\node[circ] (cm) at (395,1346) {};
\draw[draw=bd,line width=0.8pt] (395,876.5) -- (400,876.5) -- (400,950) -- (395,950);
\draw[draw=bd,line width=0.8pt] (398,1248) -- (403,1248) -- (403,1314) -- (398,1314);
\node[rb,minimum width=96pt,minimum height=30pt] (adsig) at (493,859) {Adipocytokine\\Signaling pathway};
\bx{g}{ppara}{491}{954}{44}{PPAR\textit{α}}
\bx{g}{rxra}{491}{966}{44}{RXR}
\bx{g}{pparb}{491}{1114}{44}{PPAR\textit{βδ}}
\bx{g}{rxrb}{491}{1126}{44}{RXR}
\bx{g}{pparg}{492.5}{1306.5}{44}{PPAR\textit{γ}}
\bx{g}{rxrc}{492.5}{1318.5}{44}{RXR}
\coordinate (bka) at (406,914);
\coordinate (bkb) at (409,1282);
\draw[ar] (bka) -- (ppara.north west);
\draw[ar] (cf) -- (rxra.west);
\draw[ar] (cg) -- (pparb.west);
\draw[ar] (ch) -- (rxrb.south west);
\draw[ar] (bkb) -- (pparg.north west);
\node[circ] (dna1) at (540,961) {};
\node[circ] (dna2) at (540,1121) {};
\node[circ] (dna3) at (542,1312) {};
\node[font=\fTy,inner sep=0pt] (dl1) at (535,974) {DNA};
\node[font=\fTy,inner sep=0pt] (dl2) at (536,1134) {DNA};
\node[font=\fTy,inner sep=0pt] (dl3) at (538,1326) {DNA};
\draw[ar] (ppara.south east) -- (ppara.south east -| dna1.west);
\draw[ar] (pparb.south east) -- (pparb.south east -| dna2.west);
\draw[ar] (pparg.south east) -- (pparg.south east -| dna3.west);
% target genes
\node[labw] (cKet) at (682,799) {Ketogenesis};
\node[labw] (cLip) at (685,856) {Lipid transport};
\node[labw] (cLpg) at (682,924) {Lipogenesis};
\node[labw] (cCho) at (682,978) {Cholesterol metabolism};
\node[labw] (cFat) at (682,1038) {Fatty acid transport};
\node[labw] (cFao) at (682,1142) {Fatty acid oxidation};
\bx{g}{hmgcs2}{712.5}{830}{45}{HMGCS2}
\bx{r}{apoa1}{713}{874}{44}{Apo-A I}
\bx{g}{apoa2}{713}{891}{44}{Apo-A II}
\bx{r}{apoc3}{713}{908}{44}{Apo-C III}
\bx{g}{apoa5}{760.5}{882}{43}{Apo-A V}
\bx{g}{pltp}{760.5}{900}{43}{PLTP}
\bx{g}{me1}{713}{942}{44}{ME1}
\bx{g}{scd1}{713}{959}{44}{SCD-1}
\bx{g}{dsat}{769.5}{947}{61}{Δ6 desaturate}
\bx{g}{cyp7a1}{713}{995}{44}{CYP7A1}
\bx{g}{cyp8a1}{713}{1013}{44}{CYP8A1}
\bx{g}{lxra}{760.5}{995}{43}{LXR\textit{α}}
\bx{g}{cyp27}{760.5}{1013}{43}{CYP27}
\bx{g}{acbp}{713}{1056}{44}{ACBP}
\bx{g}{fabp1}{713}{1072}{44}{FABP1}
\bx{g}{fabp3}{713}{1089}{44}{FABP3}
\bx{r}{lpl}{713}{1105}{44}{LPL}
\bx{g}{acs}{713}{1123}{44}{ACS}
\bx{g}{fatp14}{760.5}{1081}{43}{FATP1/4}
\bx{g}{fatcdb}{760.5}{1098}{43}{FATCD36}
\bx{r}{olr1}{760.5}{1114}{43}{OLR1}
\bx{g}{bein}{712.5}{1161}{45}{Bein}
\bx{g}{cyp4a1}{712.5}{1179}{45}{CYP4A1}
\bx{g}{thiob}{712.5}{1196}{45}{Thiolase B}
\bx{g}{scpx}{712.5}{1212}{45}{SCP-X}
\bx{g}{aco}{712.5}{1228}{45}{ACO}
\bx{g}{cpt1}{762.5}{1169}{43}{CPT-1}
\bx{g}{cpt2}{762.5}{1187}{43}{CPT-2}
\bx{g}{lcad}{762.5}{1204}{43}{LCAD}
\bx{g}{mcad}{762.5}{1222}{43}{MCAD}
\bx{g}{pgar}{713.5}{1258}{43}{PGAR}
\bx{g}{ap2}{713.5}{1273}{43}{aP2}
\bx{g}{cap}{713.5}{1290}{43}{CAP}
\bx{g}{peril}{761.5}{1256}{43}{Perilipin}
\bx{g}{adipo}{761.5}{1273}{43}{ADIPO}
\bx{g}{mmp1}{761.5}{1290}{43}{MMP-1}
\bx{g}{ucp1}{714.5}{1313}{43}{UCP-1}
\bx{g}{ilk}{715.5}{1342}{43}{ILK}
\bx{g}{pdk1}{762.5}{1342}{43}{PDK1}
\bx{g}{ubc}{715.5}{1368}{43}{UBC}
\bx{g}{pepck}{715.5}{1395}{43}{PEPCK}
\bx{g}{gyk}{715.5}{1411}{43}{GyK}
\bx{g}{aqp7}{762.5}{1403}{43}{AQP7}
\coordinate (tK) at (683,831);
\coordinate (tL) at (683,892);
\coordinate (tGa) at (683,948);
\coordinate (tGc) at (683,955);
\coordinate (tCa) at (683,1001);
\coordinate (tCc) at (683,1007);
\coordinate (tFTa) at (683,1081);
\coordinate (tFTb) at (683,1089);
\coordinate (tFTc) at (684,1095);
\coordinate (tFOa) at (684,1188);
\coordinate (tFOb) at (684,1192);
\coordinate (tFOc) at (685,1198);
\coordinate (tAa) at (685,1264);
\coordinate (tAb) at (686,1268);
\coordinate (tAc) at (686,1275);
\coordinate (tUa) at (687,1309);
\coordinate (tUb) at (688,1312);
\coordinate (tUc) at (688,1315);
\coordinate (tI) at (688,1343);
\coordinate (tB) at (688,1367);
\coordinate (tP) at (688,1402);
\foreach \myT in {tK,tL,tGa,tCa,tFTa,tFOa,tAa,tUa} \draw[ar] (dna1) -- (\myT);
\foreach \myT in {tFTb,tFOb,tAb,tUb,tI,tB} \draw[ar] (dna2) -- (\myT);
\foreach \myT in {tGc,tCc,tFTc,tFOc,tAc,tUc,tP} \draw[ar] (dna3) -- (\myT);
% right side
\node[rb,minimum width=99pt,minimum height=23pt] (rfad) at (900.5,874.5) {Fatty acid degradation};
\node[rb,minimum width=99pt,minimum height=23pt] (rbad) at (900.5,907) {Bile acid degradation};
\node[rb,minimum width=126pt,minimum height=34pt] (rskb) at (901,945) {Synthesis and degradation\\of ketone bodies};
\node[rb,minimum width=113pt,minimum height=32pt] (rgpm) at (900.5,986) {Glycerophospholipid\\metabolism};
\coordinate (bra) at (821,1030.5);
\coordinate (brb) at (820,1274);
\draw[dsh] (810,811) .. controls (816,811) .. (816,818) -- (816,1024) .. controls (816,1030.5) .. (bra);
\draw[dsh] (bra) .. controls (816,1030.5) .. (816,1037) -- (816,1216) .. controls (816,1222) .. (810,1222);
\draw[dsh] (810,1243) .. controls (815,1243) .. (815,1249) -- (815,1268) .. controls (815,1274) .. (brb);
\draw[dsh] (brb) .. controls (815,1274) .. (815,1280) -- (815,1294) .. controls (815,1300) .. (810,1300);
\node[sm] (lLm) at (847,1030.5) {Lipid metabolism};
\node[sm] (lAdd) at (847,1274) {Adipocyte differentiation};
\node[sm] (lAt) at (847,1318) {Adaptive thermogenesis};
\node[sm] (lCs) at (847,1344) {Cell survival};
\node[sm] (lUb) at (847,1370) {Ubiquitination};
\node[sm] (lGl) at (847,1404) {Gluconeogenesis};
\coordinate (sa) at (800,1317.5);
\coordinate (sb) at (826,1344);
\coordinate (sc) at (800,1370);
\coordinate (sd) at (826,1404);
\draw[dar] (bra) -- ([xshift=-8pt]lLm.west);
\draw[ar] (brb) -- ([xshift=-8pt]lAdd.west);
\draw[dar] (sa) -- ([xshift=-8pt]lAt.west);
\draw[ar] (sb) -- ([xshift=-8pt]lCs.west);
\draw[dar] (sc) -- ([xshift=-8pt]lUb.west);
\draw[ar] (sd) -- ([xshift=-8pt]lGl.west);
\node[font=\fIt,inner sep=0pt] (bLig) at (315,1436) {Ligand};
\node[font=\fIt,inner sep=0pt] (bTf) at (492,1436) {Transcription factor};
\node[font=\fIt,inner sep=0pt] (bTg) at (740,1436) {Target gene};
\end{tikzpicture}
\end{document}
